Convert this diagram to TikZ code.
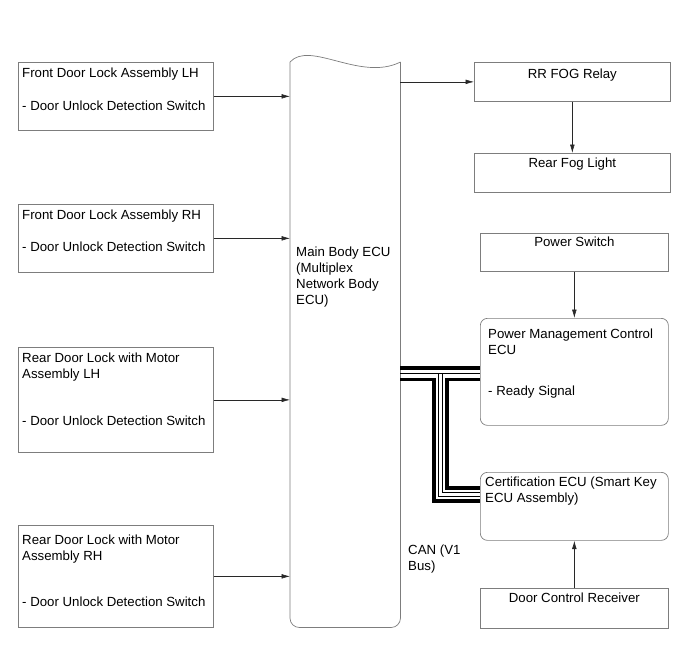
\documentclass[tikz,border=0pt]{standalone}
\usepackage{fontspec}
\setsansfont{Liberation Sans}
\usetikzlibrary{arrows.meta,calc}

\begin{document}
\begin{tikzpicture}[x=0.03cm,y=-0.03cm,>={Latex[length=2.5mm,width=1.4mm]},
  font=\sffamily\fontsize{11.3}{13.6}\selectfont]
\definecolor{frame}{RGB}{125,125,125}
\definecolor{wire}{RGB}{40,40,40}
\tikzset{
  box/.style={draw=frame,line width=0.6pt,anchor=north west,inner sep=0pt},
  rbox/.style={box,rounded corners=6pt},
  lbl/.style={anchor=north west,inner sep=0pt,align=left},
  ctr/.style={anchor=north,inner sep=0pt},
  sig/.style={->,draw=wire,line width=0.5pt},
  busthick/.style={draw=black,line width=3.2pt},
  busthin/.style={draw=black,line width=0.6pt}
}
\useasboundingbox (0,0) rectangle (690,659);

% Door lock inputs on the left.
\node[box,minimum width=5.85cm,minimum height=2.04cm] (fl) at (18,62) {};
\node[box,minimum width=5.85cm,minimum height=2.04cm] (fr) at (18,204) {};
\node[box,minimum width=5.85cm,minimum height=3.15cm] (rl) at (18,347) {};
\node[box,minimum width=5.85cm,minimum height=3.06cm] (rr) at (18,525) {};
\node[lbl] (fltxt) at ([shift={(4,6)}]fl.north west)
  {Front Door Lock Assembly LH\\[0.51cm]- Door Unlock Detection Switch};
\node[lbl] (frtxt) at ([shift={(4,6)}]fr.north west)
  {Front Door Lock Assembly RH\\[0.48cm]- Door Unlock Detection Switch};
\node[lbl] (rltxt) at ([shift={(4,6)}]rl.north west)
  {Rear Door Lock with Motor\\Assembly LH\\[0.93cm]- Door Unlock Detection Switch};
\node[lbl] (rrtxt) at ([shift={(4,10)}]rr.north west)
  {Rear Door Lock with Motor\\Assembly RH\\[0.9cm]- Door Unlock Detection Switch};

% Main body ECU with its torn top edge.
\node[minimum width=3.3cm,minimum height=16.95cm,anchor=north west,inner sep=0pt] (ecu) at (290,62) {};
\draw[frame,line width=0.6pt] (ecu.north east) [rounded corners=8pt] -- (ecu.south east)
  -- (ecu.south west) [sharp corners] -- (ecu.north west)
  .. controls +(20,-22) and +(-40,20) .. (ecu.north east);
\node[lbl] (ecutxt) at ([shift={(6,185)}]ecu.north west)
  {Main Body ECU\\(Multiplex\\Network Body\\ECU)};

% Right hand column.
\node[box,minimum width=5.88cm,minimum height=1.17cm] (fog) at (474,62) {};
\node[box,minimum width=5.88cm,minimum height=1.17cm] (rfl) at (474,153) {};
\node[box,minimum width=5.64cm,minimum height=1.14cm] (psw) at (480,233) {};
\node[rbox,minimum width=5.64cm,minimum height=3.21cm] (pmc) at (480,318) {};
\node[rbox,minimum width=5.64cm,minimum height=2.04cm] (cert) at (480,472) {};
\node[box,minimum width=5.64cm,minimum height=1.2cm] (dcr) at (480,588) {};
\node[ctr] (fogtxt) at ([shift={(0,7)}]fog.north) {RR FOG Relay};
\node[ctr] (rfltxt) at ([shift={(0,5)}]rfl.north) {Rear Fog Light};
\node[ctr] (pswtxt) at ([shift={(0,4)}]psw.north) {Power Switch};
\node[ctr] (dcrtxt) at ([shift={(0,5)}]dcr.north) {Door Control Receiver};
\node[lbl] (pmctxt) at ([shift={(8,10.5)}]pmc.north west)
  {Power Management Control\\ECU\\[0.75cm]- Ready Signal};
\node[lbl] (certtxt) at ([shift={(5,4.5)}]cert.north west)
  {Certification ECU (Smart Key\\ECU Assembly)};
\node[lbl] (cantxt) at (408,545) {CAN (V1\\Bus)};

% Signal lines.
\draw[sig] (fl.east) -- (fl.east -| ecu.west);
\draw[sig] (fr.east) -- (fr.east -| ecu.west);
\draw[sig] (rl.east) -- (rl.east -| ecu.west);
\draw[sig] (rr.east) -- (rr.east -| ecu.west);
\draw[sig] (fog.west -| ecu.east) -- (fog.west);
\draw[sig] (fog.south) -- (rfl.north);
\draw[sig] (psw.south) -- (pmc.north);
\draw[sig] (dcr.north) -- (cert.south);

% CAN bus, drawn as a twin line with a branch down to the certification ECU.
\draw[busthick] (ecu.east |- 0,368) -- (pmc.west |- 0,368);
\draw[busthin] (ecu.east |- 0,373.5) -- (pmc.west |- 0,373.5);
\draw[busthick] (ecu.east |- 0,379.5) -- (434,379.5) -- (434,501) -- (cert.west |- 0,501);
\draw[busthick] (pmc.west |- 0,379.5) -- (447,379.5) -- (447,488) -- (cert.west |- 0,488);
\draw[busthin] (438.5,373.5) -- (438.5,496.5) -- (cert.west |- 0,496.5);
\draw[busthin] (442.5,373.5) -- (442.5,492.5) -- (cert.west |- 0,492.5);
\end{tikzpicture}
\end{document}
